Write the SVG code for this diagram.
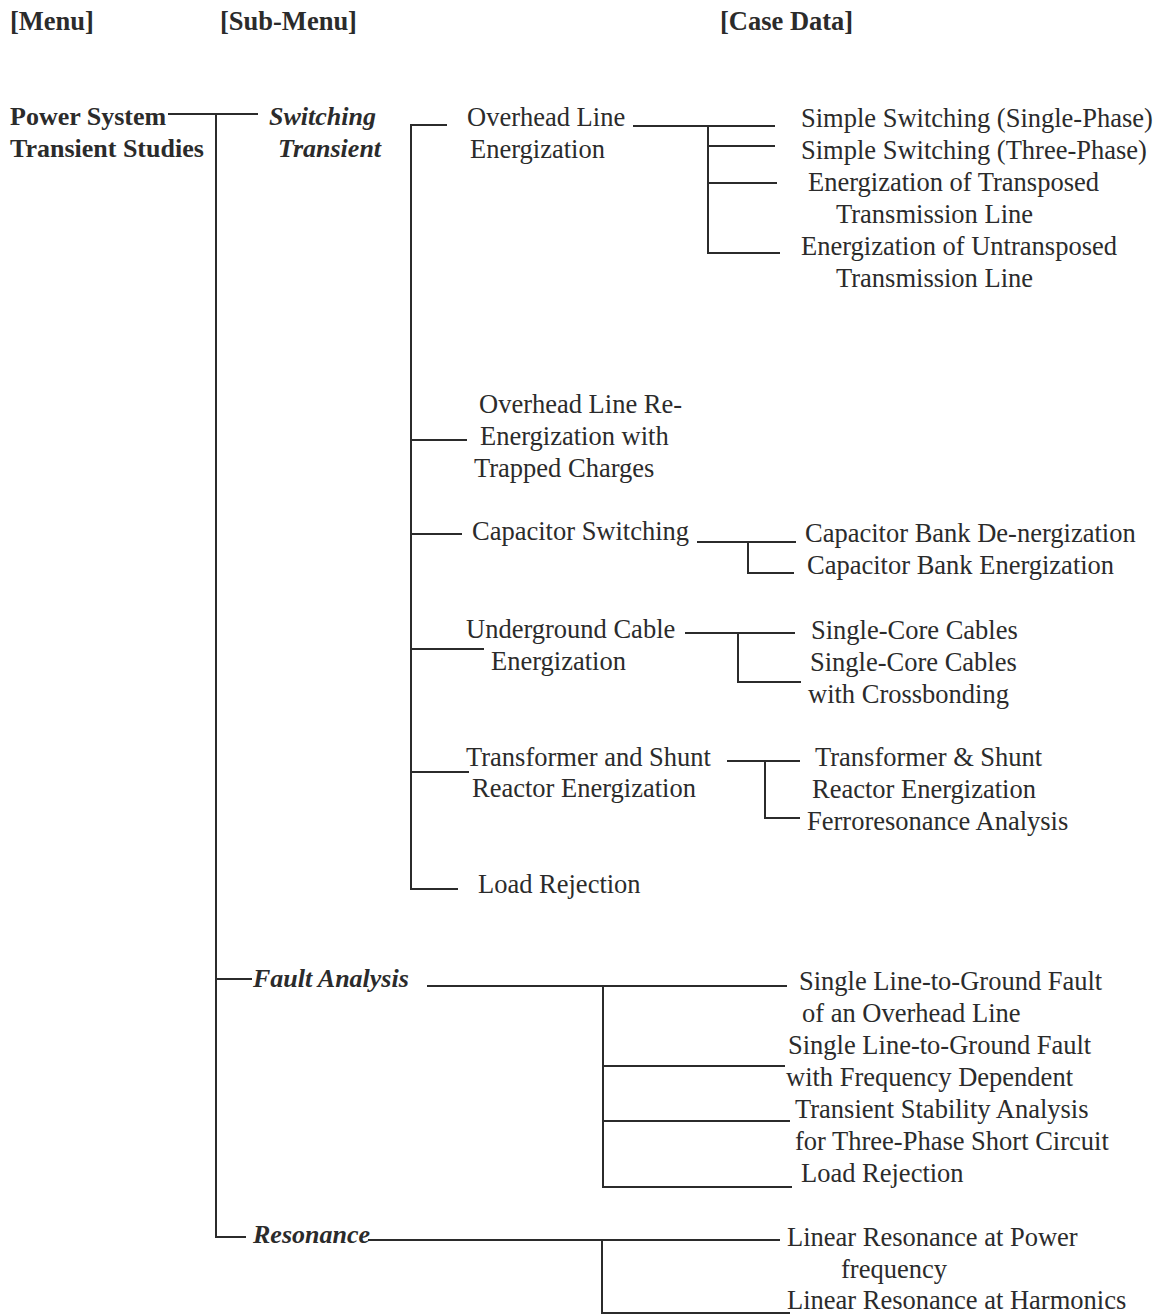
<svg xmlns="http://www.w3.org/2000/svg" width="1157" height="1316" viewBox="0 0 1157 1316">
<style>
text{font-family:"Liberation Serif","Times New Roman",serif;font-size:26.5px;fill:#2b2b2b}
.h{font-weight:bold}
.b{font-weight:bold;font-size:26px}
.bi{font-weight:bold;font-style:italic;font-size:26px}
.c path{stroke:#2b2b2b;stroke-width:2;fill:none}
</style>
<rect width="1157" height="1316" fill="#fff"/>
<g id="headers">
<text class="h" x="10" y="30">[Menu]</text>
<text class="h" x="220" y="30">[Sub-Menu]</text>
<text class="h" x="720" y="30">[Case Data]</text>
</g>
<g id="connectors" class="c">
<path d="M168,114 H258"/>
<path d="M216,114 V1237 H246"/>
<path d="M216,979 H252"/>
<path d="M447,125 H411 V889 H458"/>
<path d="M411,440 H467"/>
<path d="M411,534 H462"/>
<path d="M411,649 H484"/>
<path d="M411,772 H469"/>
<path d="M633,126 H775"/>
<path d="M708,126 V253 H780"/>
<path d="M708,146 H775"/>
<path d="M708,183 H777"/>
<path d="M697,542 H796"/>
<path d="M748,542 V573 H794"/>
<path d="M685,633 H795"/>
<path d="M738,633 V682 H801"/>
<path d="M727,761 H800"/>
<path d="M765,761 V818 H800"/>
<path d="M427,986 H787"/>
<path d="M603,986 V1187 H792"/>
<path d="M603,1066 H785"/>
<path d="M603,1121 H790"/>
<path d="M368,1240 H780"/>
<path d="M602,1240 V1313 H790"/>
</g>
<g id="menu-power-system"><text class="b" x="10" y="125">Power System</text><text class="b" x="10" y="157">Transient Studies</text></g>
<g id="sub-switching"><text class="bi" x="269" y="125">Switching</text><text class="bi" x="278" y="157">Transient</text></g>
<g id="sub-fault"><text class="bi" x="253" y="987">Fault Analysis</text></g>
<g id="sub-resonance"><text class="bi" x="253" y="1243">Resonance</text></g>
<g id="sw-overhead"><text x="467" y="126">Overhead Line</text><text x="470" y="158">Energization</text></g>
<g id="sw-reenergization"><text x="479" y="413">Overhead Line Re-</text><text x="480" y="445">Energization with</text><text x="474" y="477">Trapped Charges</text></g>
<g id="sw-capacitor"><text x="472" y="540">Capacitor Switching</text></g>
<g id="sw-cable"><text x="466" y="638">Underground Cable</text><text x="491" y="670">Energization</text></g>
<g id="sw-transformer"><text x="466" y="766">Transformer and Shunt</text><text x="472" y="797">Reactor Energization</text></g>
<g id="sw-load"><text x="478" y="893">Load Rejection</text></g>
<g id="case-ss1"><text x="801" y="127">Simple Switching (Single-Phase)</text></g>
<g id="case-ss3"><text x="801" y="159">Simple Switching (Three-Phase)</text></g>
<g id="case-transposed"><text x="808" y="191">Energization of Transposed</text><text x="836" y="223">Transmission Line</text></g>
<g id="case-untransposed"><text x="801" y="255">Energization of Untransposed</text><text x="836" y="287">Transmission Line</text></g>
<g id="case-cap-de"><text x="805" y="542">Capacitor Bank De-nergization</text></g>
<g id="case-cap-en"><text x="807" y="574">Capacitor Bank Energization</text></g>
<g id="case-core"><text x="811" y="639">Single-Core Cables</text></g>
<g id="case-cross"><text x="810" y="671">Single-Core Cables</text><text x="808" y="703">with Crossbonding</text></g>
<g id="case-tr"><text x="815" y="766">Transformer &amp; Shunt</text><text x="812" y="798">Reactor Energization</text></g>
<g id="case-ferro"><text x="807" y="830">Ferroresonance Analysis</text></g>
<g id="case-slg1"><text x="799" y="990">Single Line-to-Ground Fault</text><text x="802" y="1022">of an Overhead Line</text></g>
<g id="case-slg2"><text x="788" y="1054">Single Line-to-Ground Fault</text><text x="786" y="1086">with Frequency Dependent</text></g>
<g id="case-tsa"><text x="795" y="1118">Transient Stability Analysis</text><text x="795" y="1150">for Three-Phase Short Circuit</text></g>
<g id="case-load"><text x="801" y="1182">Load Rejection</text></g>
<g id="case-lr-power"><text x="787" y="1246">Linear Resonance at Power</text><text x="841" y="1278">frequency</text></g>
<g id="case-lr-harm"><text x="787" y="1309">Linear Resonance at Harmonics</text></g>
</svg>
